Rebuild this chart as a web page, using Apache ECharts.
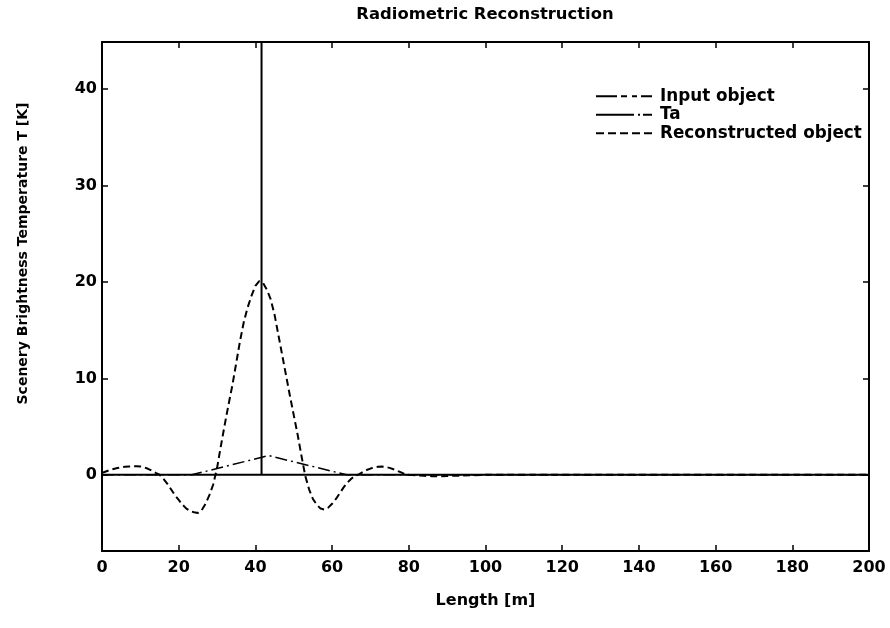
<!DOCTYPE html>
<html>
<head>
<meta charset="utf-8">
<script src="https://cdn.jsdelivr.net/npm/echarts@6/dist/echarts.min.js"></script>
<style>
html,body{margin:0;padding:0;background:#fff;}
#chart{width:890px;height:628px;}
</style>
</head>
<body>
<div id="chart"></div>
<script>
// ---- data ----
const titleText = 'Radiometric Reconstruction';
const xAxisName = 'Length [m]';
const yAxisName = 'Scenery Brightness Temperature T [K]';
const xTicks = [0, 20, 40, 60, 80, 100, 120, 140, 160, 180, 200];
const yTicks = [0, 10, 20, 30, 40];
const seriesNames = ['Input object', 'Ta', 'Reconstructed object'];

// Input object: point source (spike) at ~41.6 m
const inputX = [0, 41.6, 41.6, 41.6, 200];
const inputY = [0, 0, 100, 0, 0];

// Ta: triangular antenna temperature
const taX = [0, 23.4, 43.4, 63.8, 200];
const taY = [0, 0, 2.0, 0, 0];

// Reconstructed object
const reconX = [0,1,2,3,4,5,6,7,8,9,10,11,12,13,14,15,16,17,18,19,20,21,22,23,24,25,26,27,28,29,30,31,32,33,34,35,36,37,38,39,40,41,42,43,44,45,46,47,48,49,50,51,52,53,54,55,56,57,58,59,60,61,62,63,64,65,66,67,68,69,70,71,72,73,74,75,76,77,78,79,80,82,84,86,88,90,92,94,96,100,200];
const reconY = [0.2,0.35,0.5,0.6,0.7,0.78,0.83,0.87,0.89,0.9,0.87,0.78,0.63,0.43,0.2,0.02,-0.4,-0.9,-1.5,-2.1,-2.6,-3.1,-3.5,-3.75,-3.88,-3.95,-3.65,-3.0,-2.1,-1.0,0.7,3.0,5.2,7.3,9.3,11.6,13.9,15.9,17.4,18.6,19.6,20.1,19.9,19.2,18.2,16.6,14.5,12.4,10.3,8.2,6.2,4.2,2.0,-0.1,-1.5,-2.5,-3.1,-3.5,-3.6,-3.4,-3.0,-2.5,-1.9,-1.3,-0.8,-0.4,-0.1,0.05,0.3,0.5,0.65,0.77,0.83,0.86,0.82,0.72,0.58,0.42,0.25,0.08,0.0,-0.05,-0.1,-0.14,-0.15,-0.12,-0.1,-0.08,-0.05,0,0];

const zip = (xs, ys) => xs.map((x, i) => [x, ys[i]]);

const FONT = 'DejaVu Sans';
const chart = echarts.init(document.getElementById('chart'), null, {renderer: 'canvas'});

const tickStyle = {show: true, inside: true, length: 6, lineStyle: {color: '#000', width: 1.5}};
const lineAxis = {show: true, onZero: false, lineStyle: {color: '#000', width: 2}};
const hiddenIcon = {color: 'rgba(0,0,0,0)', borderColor: 'rgba(0,0,0,0)', borderWidth: 0, opacity: 0};

chart.setOption({
  animation: false,
  backgroundColor: '#fff',
  title: {
    text: titleText,
    left: 480, top: 2, textAlign: 'center',
    textStyle: {fontFamily: FONT, fontSize: 16.4, fontWeight: 'bold', color: '#000'}
  },
  legend: {
    orient: 'vertical',
    left: 590, top: 82,
    itemWidth: 56, itemHeight: 14, itemGap: 0,
    textStyle: {fontFamily: FONT, fontSize: 16.8, fontWeight: 'bold', color: '#000', lineHeight: 18.5, padding: [0, 0, 0, 3]},
    data: [
      {name: seriesNames[0], itemStyle: hiddenIcon, lineStyle: {type: [21, 4, 6, 5, 5, 4, 11, 10], width: 2}},
      {name: seriesNames[1], itemStyle: hiddenIcon, lineStyle: {type: [38, 4, 2, 3, 9, 10], width: 2}},
      {name: seriesNames[2], itemStyle: hiddenIcon, lineStyle: {type: [8, 4], width: 2}}
    ]
  },
  grid: {left: 102, right: 21, top: 42, bottom: 77, containLabel: false},
  xAxis: [
    {
      type: 'value', position: 'bottom', min: 0, max: 200, interval: 20,
      axisLine: lineAxis, splitLine: {show: false},
      name: xAxisName, nameLocation: 'middle', nameGap: 42,
      nameTextStyle: {fontFamily: FONT, fontSize: 16, fontWeight: 'bold', color: '#000'},
      axisLabel: {margin: 9, fontFamily: FONT, fontSize: 16, fontWeight: 'bold', color: '#000', customValues: xTicks},
      axisTick: Object.assign({}, tickStyle, {customValues: xTicks})
    },
    {
      type: 'value', position: 'top', min: 0, max: 200, interval: 20,
      axisLine: lineAxis, splitLine: {show: false},
      axisLabel: {show: false},
      axisTick: Object.assign({}, tickStyle, {customValues: xTicks})
    }
  ],
  yAxis: [
    {
      type: 'value', position: 'left', min: -7.9, max: 44.9,
      axisLine: lineAxis, splitLine: {show: false},
      name: yAxisName, nameLocation: 'middle', nameGap: 72, nameRotate: 90,
      nameTextStyle: {fontFamily: FONT, fontSize: 14, fontWeight: 'bold', color: '#000', padding: [0, 0, 0, 86]},
      axisLabel: {margin: 5, fontFamily: FONT, fontSize: 16, fontWeight: 'bold', color: '#000', customValues: yTicks},
      axisTick: Object.assign({}, tickStyle, {customValues: yTicks})
    },
    {
      type: 'value', position: 'right', min: -7.9, max: 44.9,
      axisLine: lineAxis, splitLine: {show: false},
      axisLabel: {show: false},
      axisTick: Object.assign({}, tickStyle, {customValues: yTicks})
    }
  ],
  series: [
    {
      name: seriesNames[0], type: 'line', data: zip(inputX, inputY),
      showSymbol: false, symbol: 'none', clip: true,
      lineStyle: {color: '#000', width: 2, type: 'solid'}, z: 3
    },
    {
      name: seriesNames[1], type: 'line', data: zip(taX, taY),
      showSymbol: false, symbol: 'none', clip: true,
      lineStyle: {color: '#000', width: 1.5, type: [12, 4, 2, 4]}, z: 2
    },
    {
      name: seriesNames[2], type: 'line', data: zip(reconX, reconY),
      showSymbol: false, symbol: 'none', clip: true,
      lineStyle: {color: '#000', width: 2, type: [7, 4]}, z: 2
    }
  ]
});
</script>
</body>
</html>
